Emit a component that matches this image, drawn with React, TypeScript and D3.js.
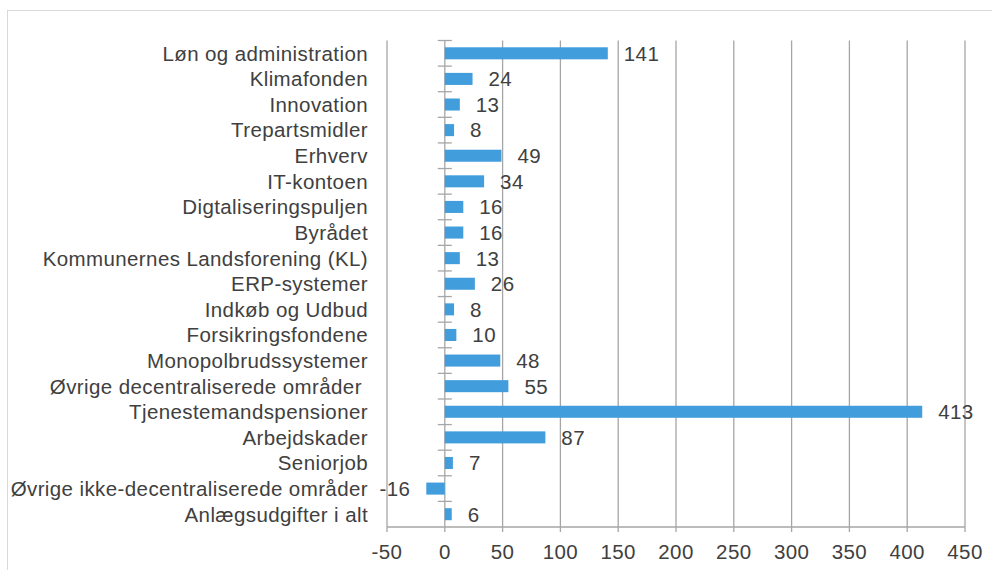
import React from "react";
import * as d3 from "d3";

const categories = [
  "Løn og administration",
  "Klimafonden",
  "Innovation",
  "Trepartsmidler",
  "Erhverv",
  "IT-kontoen",
  "Digtaliseringspuljen",
  "Byrådet",
  "Kommunernes Landsforening (KL)",
  "ERP-systemer",
  "Indkøb og Udbud",
  "Forsikringsfondene",
  "Monopolbrudssystemer",
  "Øvrige decentraliserede områder ",
  "Tjenestemandspensioner",
  "Arbejdskader",
  "Seniorjob",
  "Øvrige ikke-decentraliserede områder",
  "Anlægsudgifter i alt",
];
const values = [141, 24, 13, 8, 49, 34, 16, 16, 13, 26, 8, 10, 48, 55, 413, 87, 7, -16, 6];
const xTicks = [-50, 0, 50, 100, 150, 200, 250, 300, 350, 400, 450];

const W = 992;
const H = 570;
const FONT = "'Liberation Sans', Arial, sans-serif";
const TEXT = "#404040";
const GRID = "#a6a6a6";
const BAR = "#419ddc";
const FS = 20.5;
const LS = 0.4;

export default function App() {
  const x = d3.scaleLinear().domain([-50, 450]).range([387, 965]);
  const y = d3
    .scaleBand<string>()
    .domain(categories)
    .range([40.5, 527])
    .paddingInner(0.53)
    .paddingOuter(0.265);
  const step = y.step();
  const top = 40.5;
  const bottom = 527;
  const x0 = x(0);
  const boundaries = d3.range(categories.length).map((i) => top + i * step);

  return (
    <svg
      width={W}
      height={H}
      style={{ position: "absolute", left: 0, top: 0, display: "block", background: "#fff" }}
      fontFamily={FONT}
    >
      <rect x={7.5} y={10.5} width={W} height={H} fill="#fff" stroke="#d9d9d9" strokeWidth={1} />
      {xTicks.map((t) => (
        <line key={"g" + t} x1={x(t)} x2={x(t)} y1={top} y2={bottom + 5} stroke={GRID} strokeWidth={1.3} />
      ))}
      <line x1={x(-50)} x2={x(450)} y1={bottom} y2={bottom} stroke={GRID} strokeWidth={1.3} />
      {boundaries.map((b, i) => (
        <line key={"t" + i} x1={x0 - 7} x2={x0 + 7} y1={b} y2={b} stroke={GRID} strokeWidth={1.3} />
      ))}
      {categories.map((c, i) => {
        const v = values[i];
        const yy = y(c)!;
        const bx = Math.min(x(0), x(v));
        const bw = Math.abs(x(v) - x(0));
        return (
          <g key={c}>
            <rect x={bx} y={yy} width={bw} height={y.bandwidth()} fill={BAR} />
            <text
              x={v >= 0 ? x(v) + 16 : x(v) - 16}
              y={yy + y.bandwidth() / 2}
              dy="0.36em"
              textAnchor={v >= 0 ? "start" : "end"}
              fontSize={FS}
              letterSpacing={LS}
              fill={TEXT}
            >
              {v}
            </text>
            <text
              x={368}
              y={yy + y.bandwidth() / 2}
              dy="0.36em"
              textAnchor="end"
              fontSize={FS}
              letterSpacing={LS}
              fill={TEXT}
              style={{ whiteSpace: "pre" }}
            >
              {c}
            </text>
          </g>
        );
      })}
      {xTicks.map((t) => (
        <text
          key={"l" + t}
          x={x(t)}
          y={552}
          dy="0.36em"
          textAnchor="middle"
          fontSize={FS}
          letterSpacing={LS}
          fill={TEXT}
        >
          {t}
        </text>
      ))}
    </svg>
  );
}
